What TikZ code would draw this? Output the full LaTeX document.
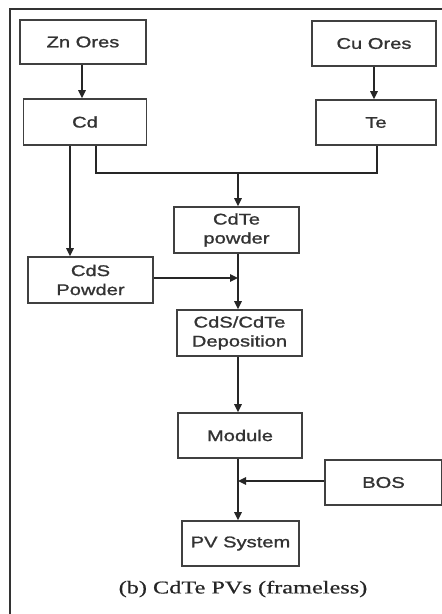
\documentclass[tikz,border=0pt]{standalone}
\usepackage{fontspec}
\newfontfamily\boxfont{Liberation Sans}[FakeStretch=1.3,FakeBold=1.2]
\newfontfamily\capfont{Liberation Serif}[FakeStretch=1.35,FakeBold=0.6]
\usetikzlibrary{arrows.meta}
\begin{document}
\begin{tikzpicture}[x=1pt,y=-1pt,
  box/.style={draw=black!75,line width=1.6pt,fill=white,inner sep=0pt,align=center,
    font=\boxfont\fontsize{15.5}{19}\selectfont,text=black!80},
  arr/.style={draw=black!85,line width=1.6pt,-{Triangle[length=8pt,width=7.5pt]}},
  ln/.style={draw=black!85,line width=1.6pt}]
\useasboundingbox (0,0) rectangle (442,614);
\fill[white] (0,0) rectangle (442,614);
\draw[black!80,line width=1.2pt] (10,620) -- (10,9) -- (450,9);
\node[box,minimum width=126pt,minimum height=44pt] (zn) at (83,42) {Zn Ores};
\node[box,minimum width=124pt,minimum height=45pt] (cu) at (374,43.5) {Cu Ores};
\node[box,minimum width=123pt,minimum height=46pt] (cd) at (85,122) {Cd};
\node[box,minimum width=120pt,minimum height=45pt] (te) at (376,122.5) {Te};
\node[box,minimum width=125pt,minimum height=46pt] (cdte) at (236.5,230) {CdTe\\powder};
\node[box,minimum width=125pt,minimum height=46pt] (cds) at (90.5,280) {CdS\\Powder};
\node[box,minimum width=125pt,minimum height=46pt] (dep) at (239.5,333) {CdS/CdTe\\Deposition};
\node[box,minimum width=124pt,minimum height=45pt] (mod) at (240,435.5) {Module};
\node[box,minimum width=117pt,minimum height=45pt] (bos) at (383.5,482.5) {BOS};
\node[box,minimum width=117pt,minimum height=45pt] (pv) at (240.5,543.5) {PV System};
\node[font=\capfont\fontsize{18}{21}\selectfont,text=black!85] (cap) at (243,589) {(b) CdTe PVs (frameless)};
\coordinate (xa) at (70,0);
\coordinate (xb) at (96,0);
\coordinate (xc) at (238,0);
\coordinate (xt) at (377,0);
\coordinate (j1) at (238,173);
\coordinate (j2) at (238,278);
\coordinate (j3) at (238,481);
\draw[arr] (zn.south -| cd.north) ++(-3,0) coordinate (tmp) -- (tmp |- cd.north);
\draw[arr] (cu.south) -- (cu.south |- te.north);
\draw[arr] (xa |- cd.south) -- (xa |- cds.north);
\draw[ln] (xb |- cd.south) -- (xb |- j1) -- (xt |- j1) -- (xt |- te.south);
\draw[arr] (j1) -- (xc |- cdte.north);
\draw[arr] (xc |- cdte.south) -- (xc |- dep.north);
\draw[arr] (cds.east |- j2) -- (j2);
\draw[arr] (xc |- dep.south) -- (xc |- mod.north);
\draw[arr] (xc |- mod.south) -- (xc |- pv.north);
\draw[arr] (bos.west |- j3) -- (j3);
\end{tikzpicture}
\end{document}
